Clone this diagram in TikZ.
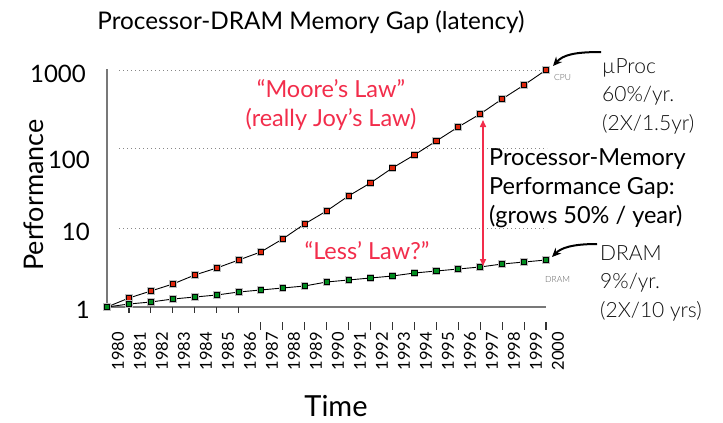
\documentclass[tikz,border=0pt]{standalone}
\usepackage{fontspec}
\setmainfont{Lato}
\newfontfamily\lightfont{Lato Light}
\usetikzlibrary{arrows.meta}

\definecolor{cpured}{RGB}{222,38,12}
\definecolor{dramgreen}{RGB}{0,140,30}
\definecolor{lawred}{RGB}{242,45,75}
\definecolor{axisgray}{RGB}{120,120,120}
\definecolor{gridgray}{RGB}{135,135,135}
\definecolor{softtext}{RGB}{15,15,15}
\definecolor{tinytext}{RGB}{90,90,90}

\tikzset{
  axisline/.style={draw=axisgray, line width=1.4pt},
  gridline/.style={draw=gridgray, line width=0.9pt, dash pattern=on 0.9pt off 3.1pt},
  tickmark/.style={draw=black!80, line width=1.1pt},
  dataline/.style={draw=black, line width=0.9pt},
  sqmark/.style={rectangle, draw=black, line width=0.7pt, minimum size=5.2pt, inner sep=0pt,
    preaction={draw=black!25, line width=2.4pt}},
  cpumark/.style={sqmark, fill=cpured},
  drammark/.style={sqmark, fill=dramgreen},
  yearlbl/.style={rotate=90, anchor=east, inner sep=0pt, font=\fontsize{16.5}{16.5}\selectfont},
  valuelbl/.style={anchor=base east, inner sep=0pt, font=\fontsize{24}{24}\selectfont},
  lawtext/.style={text=lawred, inner sep=0pt, font=\fontsize{23.5}{29}\selectfont},
  sidetext/.style={anchor=base west, align=left, inner sep=0pt, text=softtext,
    font=\lightfont\fontsize{21}{28.5}\selectfont},
  seriestag/.style={inner sep=0pt, text=tinytext, font=\lightfont\fontsize{8.5}{8.5}\selectfont},
  gaparrow/.style={draw=lawred, line width=1.5pt, {Triangle[length=7pt,width=6pt]}-{Triangle[length=7pt,width=6pt]}},
  callout/.style={draw=black, line width=2pt, -{Stealth[length=9pt,width=8pt]}}
}

\begin{document}
\begin{tikzpicture}[x=1pt, y=-1pt]
\useasboundingbox (0,0) rectangle (723,423);

% title
\node[anchor=base, inner sep=0pt, font=\fontsize{24.3}{24.3}\selectfont] (title) at (311,29)
  {Processor-DRAM Memory Gap (latency)};

% dotted decade lines
\foreach \gy in {70,148,228} \draw[gridline] (119,\gy) -- (547,\gy);

% axes
\coordinate (origin) at (107,307);
\coordinate (ytop) at (107,69);
\coordinate (xend) at (546,307);
\draw[axisline] (ytop) -- (origin) -- (xend);

% value labels
\node[valuelbl] (v1000) at (86,82) {1000};
\node[valuelbl] (v100) at (90,168) {100};
\node[valuelbl] (v10) at (90,240) {10};
\node[valuelbl] (v1) at (90,318) {1};

% axis titles
\node[rotate=90, anchor=base, inner sep=0pt, font=\fontsize{27}{27}\selectfont] (ytitle) at (43,195) {Performance};
\node[anchor=base, inner sep=0pt, text depth=0pt, font=\fontsize{29}{29}\selectfont] (xtitle) at (336,416) {Time};

% year ticks
\foreach \i in {1,...,6} \draw[tickmark] ({107+21.95*\i},307) -- ++(0,6);
\foreach \i in {7,...,20} \draw[tickmark] ({107+21.95*\i},322) -- ++(0,8);

% year labels
\foreach \i in {0,...,20} {
  \pgfmathtruncatemacro\yr{1980+\i}
  \node[yearlbl] (yr\i) at ({118+22*\i},332) {\yr};
}

% data points (pixel rows of the log scale)
\foreach \yc/\yd [count=\i from 0] in {307/307,298/304,291/302,284/299,275/297,268/295,260/292,
    252/290,239/288,224/286,211/282,196/280,183/278,168/276,155/273,141/271,127/269,114/267,
    99/264,85/262,70/260} {
  \coordinate (c\i) at ({107+21.95*\i},\yc);
  \coordinate (d\i) at ({107+21.95*\i},\yd);
}
\draw[dataline] (c0) \foreach \i in {1,...,20} {-- (c\i)};
\draw[dataline] (d0) \foreach \i in {1,...,20} {-- (d\i)};
\foreach \i in {1,...,20} \node[cpumark] (cm\i) at (c\i) {};
\foreach \i in {0,...,20} \node[drammark] (dm\i) at (d\i) {};

% series tags
\node[seriestag, anchor=base west] (cputag) at (554,80) {CPU};
\node[seriestag, anchor=base west] (dramtag) at (545,282) {DRAM};

% law annotations (multi-line nodes: base = last line)
\node[lawtext, anchor=base, align=center] (moore) at (331,126) {“Moore's Law”\\(really Joy's Law)};
\node[lawtext, anchor=base] (less) at (367,259) {“Less' Law?”};

% gap arrow
\coordinate (gaptop) at (483,120);
\coordinate (gapbot) at (483,266);
\draw[gaparrow] (gaptop) -- (gapbot);
\node[anchor=base west, align=left, inner sep=0pt, font=\fontsize{23.5}{29}\selectfont] (gap) at (489,223)
  {Processor-Memory\\Performance Gap:\\(grows 50\% / year)};

% growth-rate notes with callouts
\node[sidetext] (uproc) at (602,130) {µProc\\60\%/yr.\\(2X/1.5yr)};
\node[sidetext] (dramnote) at (600,317) {DRAM\\9\%/yr.\\(2X/10 yrs)};
\coordinate (cpufrom) at (601,52);
\coordinate (cputip) at (553,66);
\coordinate (dramfrom) at (597,244);
\coordinate (dramtip) at (552,257);
\draw[callout] (cpufrom) .. controls (574,52) and (563,55) .. (cputip);
\draw[callout] (dramfrom) .. controls (572,244) and (561,248) .. (dramtip);
\end{tikzpicture}
\end{document}
